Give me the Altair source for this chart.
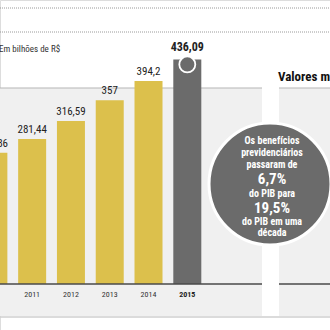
import altair as alt
import pandas as pd

years = [2010, 2011, 2012, 2013, 2014, 2015]
values = [254.86, 281.44, 316.59, 357.0, 394.2, 436.09]
value_labels = ["254,86", "281,44", "316,59", "357", "394,2", "436,09"]
year_labels = ["", "2011", "2012", "2013", "2014", "2015"]
unit_text = "Em bilhões de R$"
side_title = "Valores m"
bubble_lines = ["Os benefícios", "previdenciários", "passaram de", "6,7%",
                "do PIB para", "19,5%", "do PIB em uma", "década"]

YELLOW = "#dcc04c"
GREY = "#6b6b6b"
FONT = "Liberation Sans Narrow, Roboto Condensed, DejaVu Sans Condensed, Roboto, sans-serif"

df = pd.DataFrame({"year": years, "value": values, "label": value_labels,
                   "ylab": year_labels})
df["hl"] = df["year"] == 2015

W = H = 330
k = 0.515
base_px = 284
x_scale = alt.Scale(domain=[2011 - 28 / 40, 2011 + (W - 28) / 40], nice=False, zero=False)
y_scale = alt.Scale(domain=[(base_px - H) / k, base_px / k], nice=False, zero=False)
X = alt.X("year:Q", scale=x_scale, axis=None)
Y = alt.Y("value:Q", scale=y_scale, axis=None)

one = pd.DataFrame({"a": [0]})

def box(x1, x2, y1, y2, color):
    return alt.Chart(one).mark_rect(color=color).encode(
        x=alt.value(x1), x2=alt.value(x2), y=alt.value(y1), y2=alt.value(y2))

def hrule(x1, x2, y, color, width=1.0, dash=None):
    kw = dict(color=color, strokeWidth=width)
    if dash:
        kw["strokeDash"] = dash
    return alt.Chart(one).mark_rule(**kw).encode(
        x=alt.value(x1), x2=alt.value(x2), y=alt.value(y))

BG = "#f0f0f0"
layers = [
    box(0, 262, 88, 316, BG),
    box(279, 330, 88, 316, BG),
    hrule(0, 330, 8, "#9a9a9a", 1, [1, 1]),
    hrule(0, 330, 32, "#9a9a9a", 1, [1, 1]),
    hrule(0, 262, 88, "#b5b5b5", 1),
    hrule(279, 330, 88, "#b5b5b5", 1),
    hrule(0, 330, 317, "#cfcfcf", 1.5),
]

bars = alt.Chart(df).mark_bar(size=28, clip=True).encode(
    x=X, y=Y, y2=alt.datum(0),
    color=alt.Color("hl:N", scale=alt.Scale(domain=[False, True], range=[YELLOW, GREY]), legend=None),
)
layers.append(bars)

layers += [
    hrule(0, 262, 284, "#4a4a4a", 1.5),
    hrule(279, 330, 284, "#4a4a4a", 1.5),
]

cap = alt.Chart(df[df["hl"]]).mark_point(
    filled=True, size=256, color=GREY, stroke="white", strokeWidth=1.8, opacity=1, yOffset=5
).encode(x=X, y=Y)
layers.append(cap)

val_txt = alt.Chart(df[~df["hl"]]).mark_text(
    font=FONT, fontSize=11, color="#222", baseline="bottom", dy=-4, clip=True
).encode(x=X, y=Y, text="label:N")
val_hl = alt.Chart(df[df["hl"]]).mark_text(
    font=FONT, fontSize=12, fontWeight="bold", color="#222", baseline="bottom", dy=-5
).encode(x=X, y=Y, text="label:N")
yr_txt = alt.Chart(df[(~df["hl"]) & (df["ylab"] != "")]).mark_text(
    font=FONT, fontSize=8, color="#333", baseline="middle", clip=True
).encode(x=X, y=alt.value(295), text="ylab:N")
yr_hl = alt.Chart(df[df["hl"]]).mark_text(
    font=FONT, fontSize=8, fontWeight="bold", color="#222", baseline="middle"
).encode(x=X, y=alt.value(295), text="ylab:N")
layers += [val_txt, val_hl, yr_txt, yr_hl]

unit = alt.Chart(pd.DataFrame({"t": [unit_text]})).mark_text(
    font=FONT, fontSize=9, color="#333", align="left", baseline="middle"
).encode(x=alt.value(-1), y=alt.value(49), text="t:N")
side = alt.Chart(pd.DataFrame({"t": [side_title]})).mark_text(
    font=FONT, fontSize=13, fontWeight="bold", color="#111", align="left", baseline="middle"
).encode(x=alt.value(278), y=alt.value(77), text="t:N")
layers += [unit, side]

R = 61
bubble = alt.Chart(one).mark_circle(
    size=(2 * R) ** 2, color=GREY, opacity=1, stroke="white", strokeWidth=3
).encode(x=alt.value(270), y=alt.value(184))
layers.append(bubble)

line_y = [141, 153, 165, 179, 194, 208, 222, 233]
for i, (txt, yy) in enumerate(zip(bubble_lines, line_y)):
    big = i in (3, 5)
    layers.append(
        alt.Chart(pd.DataFrame({"t": [txt]})).mark_text(
            font=FONT, fontSize=15 if big else 10, fontWeight="bold", color="white",
            align="center", baseline="middle"
        ).encode(x=alt.value(272), y=alt.value(yy), text="t:N")
    )

chart = alt.layer(*layers).properties(
    width=W, height=H, padding=0, autosize=alt.AutoSizeParams(type="none")
).configure_view(stroke=None).configure(background="white")

chart.save("out.html", embed_options={"renderer": "svg", "actions": False})
